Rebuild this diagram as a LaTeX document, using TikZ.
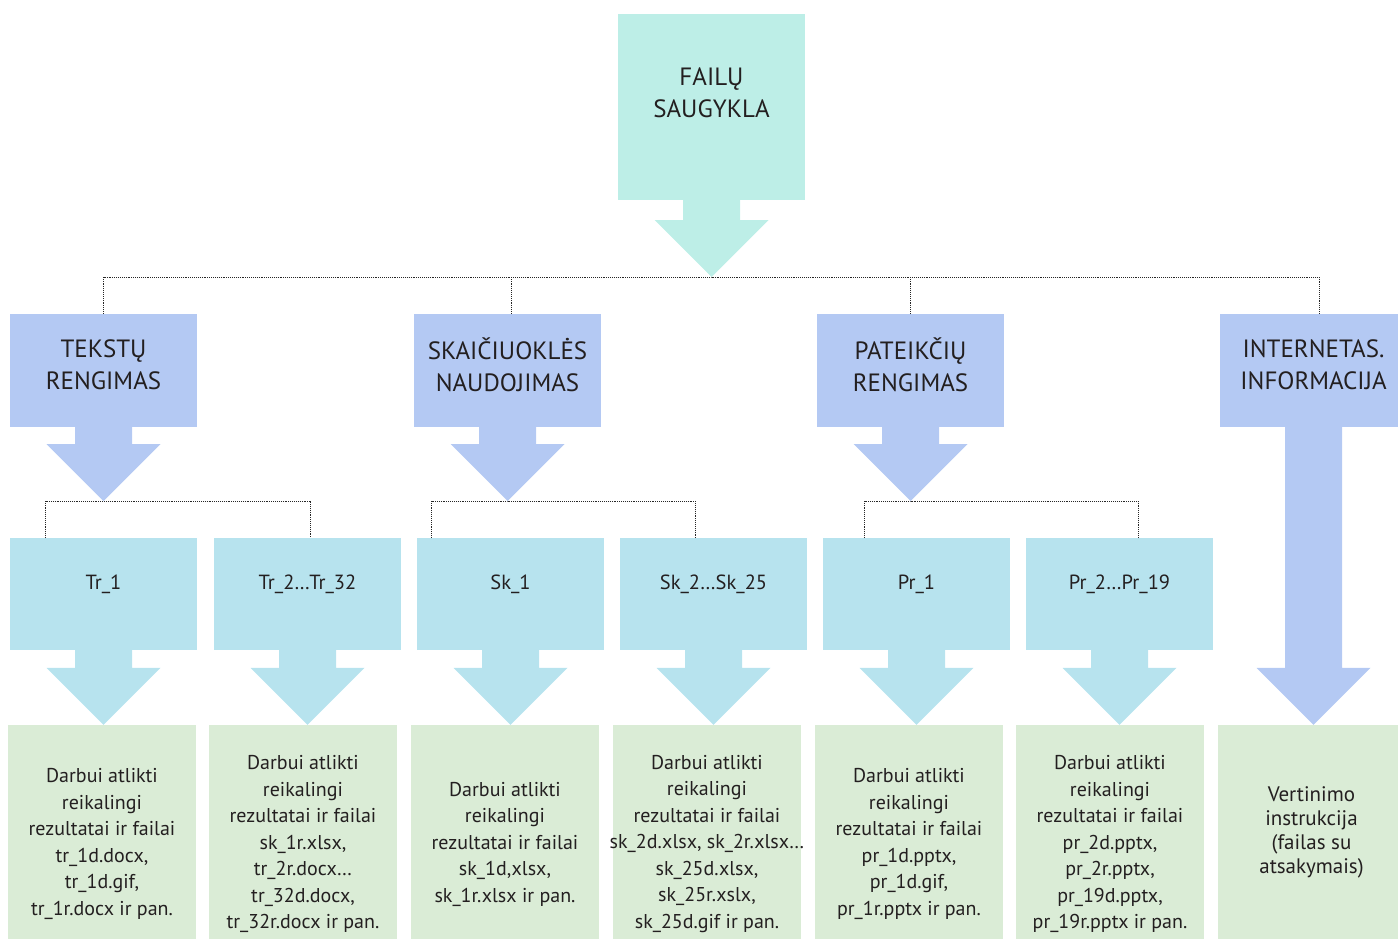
\documentclass[tikz,border=0pt]{standalone}
\usepackage{fontspec}
\setmainfont{PT Sans}
\usetikzlibrary{calc}

\definecolor{storeteal}{RGB}{189,238,231}
\definecolor{topicblue}{RGB}{180,201,243}
\definecolor{taskblue}{RGB}{183,227,238}
\definecolor{filegreen}{RGB}{218,236,214}
\definecolor{inkgray}{RGB}{35,31,32}

% block arrow: fill colour, start (bottom of a box), tip
\newcommand{\blockarrow}[3]{%
  \fill[#1] let \p1=(#2), \p2=(#3) in
    (\x1-28.5pt,\y1) -- (\x1+28.5pt,\y1) -- (\x1+28.5pt,\y2+57pt)
    -- (\x1+57pt,\y2+57pt) -- (\x1,\y2) -- (\x1-57pt,\y2+57pt)
    -- (\x1-28.5pt,\y2+57pt) -- cycle;}

\begin{document}
\begin{tikzpicture}[x=1pt, y=-1pt,
    every node/.style={inner sep=0pt, text=inkgray},
    store/.style={fill=storeteal, minimum width=187pt, minimum height=186pt},
    topic/.style={fill=topicblue, minimum width=187pt, minimum height=113pt},
    task/.style={fill=taskblue, minimum width=187pt, minimum height=112pt},
    result/.style={fill=filegreen, minimum width=188pt, minimum height=214pt},
    headtext/.style={align=center, font=\fontsize{25}{32}\selectfont},
    tasktext/.style={font=\fontsize{20.5}{25}\selectfont, yshift=10pt},
    bodytext/.style={align=center, font=\fontsize{20}{26.5}\selectfont, yshift=-12pt},
    bus/.style={draw=black!85, line width=0.9pt, densely dotted}]
    \useasboundingbox (0,0) rectangle (1398,939);

    % Storage at the top
    \node[store, label={[headtext, yshift=14pt]center:FAILŲ\\SAUGYKLA}] (store) at (711.5,107) {};
    \coordinate (hub) at (711.5,277);

    % Topics
    \node[topic, label={[headtext, yshift=6pt]center:TEKSTŲ\\RENGIMAS}] (tekst) at (103.5,370.5) {};
    \node[topic, label={[headtext, yshift=6pt]center:SKAIČIUOKLĖS\\NAUDOJIMAS}] (skaic) at (507.5,370.5) {};
    \node[topic, label={[headtext, yshift=6pt]center:PATEIKČIŲ\\RENGIMAS}] (pateik) at (910.5,370.5) {};
    \node[topic, label={[headtext, yshift=6pt]center:INTERNETAS.\\INFORMACIJA}] (inter) at (1313.5,370.5) {};
    \coordinate (tekstjoin) at (103.5,501);
    \coordinate (skaicjoin) at (507.5,501);
    \coordinate (pateikjoin) at (910.5,501);

    % Tasks
    \node[task, label={[tasktext]center:Tr\_1}] (tr1) at (103.5,594) {};
    \node[task, label={[tasktext]center:Tr\_2…Tr\_32}] (tr2) at (307.5,594) {};
    \node[task, label={[tasktext]center:Sk\_1}] (sk1) at (510.5,594) {};
    \node[task, label={[tasktext]center:Sk\_2…Sk\_25}] (sk2) at (713.5,594) {};
    \node[task, label={[tasktext]center:Pr\_1}] (pr1) at (916.5,594) {};
    \node[task, label={[tasktext]center:Pr\_2…Pr\_19}] (pr2) at (1119.5,594) {};

    % Result files
    \node[result, label={[bodytext]center:Darbui atlikti\\reikalingi\\rezultatai ir failai\\tr\_1d.docx,\\tr\_1d.gif,\\tr\_1r.docx ir pan.}] (res1) at (102,832) {};
    \node[result, label={[bodytext]center:Darbui atlikti\\reikalingi\\rezultatai ir failai\\sk\_1r.xlsx,\\tr\_2r.docx…\\tr\_32d.docx,\\tr\_32r.docx ir pan.}] (res2) at (303,832) {};
    \node[result, label={[bodytext]center:Darbui atlikti\\reikalingi\\rezultatai ir failai\\sk\_1d,xlsx,\\sk\_1r.xlsx ir pan.}] (res3) at (505,832) {};
    \node[result, label={[bodytext]center:Darbui atlikti\\reikalingi\\rezultatai ir failai\\sk\_2d.xlsx, sk\_2r.xlsx…\\sk\_25d.xlsx,\\sk\_25r.xslx,\\sk\_25d.gif ir pan.}] (res4) at (707,832) {};
    \node[result, label={[bodytext]center:Darbui atlikti\\reikalingi\\rezultatai ir failai\\pr\_1d.pptx,\\pr\_1d.gif,\\pr\_1r.pptx ir pan.}] (res5) at (909,832) {};
    \node[result, label={[bodytext]center:Darbui atlikti\\reikalingi\\rezultatai ir failai\\pr\_2d.pptx,\\pr\_2r.pptx,\\pr\_19d.pptx,\\pr\_19r.pptx ir pan.}] (res6) at (1110,832) {};
    \node[result, label={[bodytext, font=\fontsize{21}{24}\selectfont, yshift=12pt]center:Vertinimo\\instrukcija\\(failas su\\atsakymais)}] (eval) at (1311.5,832) {};

    % Dotted links
    \draw[bus] (tekst.north) |- (hub) -| ([xshift=5.5pt]inter.north);
    \draw[bus] ([xshift=3.5pt]skaic.north) -- ++(0,-37);
    \draw[bus] (pateik.north) -- ++(0,-37);
    \draw[bus] ([xshift=36pt]tr1.north west) |- (tekstjoin) -| ([xshift=2.5pt]tr2.north);
    \draw[bus] ([xshift=15pt]sk1.north west) |- (skaicjoin) -| ([xshift=-18.5pt]sk2.north);
    \draw[bus] ([xshift=42pt]pr1.north west) |- (pateikjoin) -| ([xshift=18.5pt]pr2.north);

    % Block arrows
    \blockarrow{storeteal}{store.south}{hub}
    \blockarrow{topicblue}{tekst.south}{tekstjoin}
    \blockarrow{topicblue}{skaic.south}{skaicjoin}
    \blockarrow{topicblue}{pateik.south}{pateikjoin}
    \blockarrow{topicblue}{inter.south}{eval.north}
    \blockarrow{taskblue}{tr1.south}{res1.north}
    \blockarrow{taskblue}{tr2.south}{res2.north}
    \blockarrow{taskblue}{sk1.south}{res3.north}
    \blockarrow{taskblue}{sk2.south}{res4.north}
    \blockarrow{taskblue}{pr1.south}{res5.north}
    \blockarrow{taskblue}{pr2.south}{res6.north}
\end{tikzpicture}
\end{document}
